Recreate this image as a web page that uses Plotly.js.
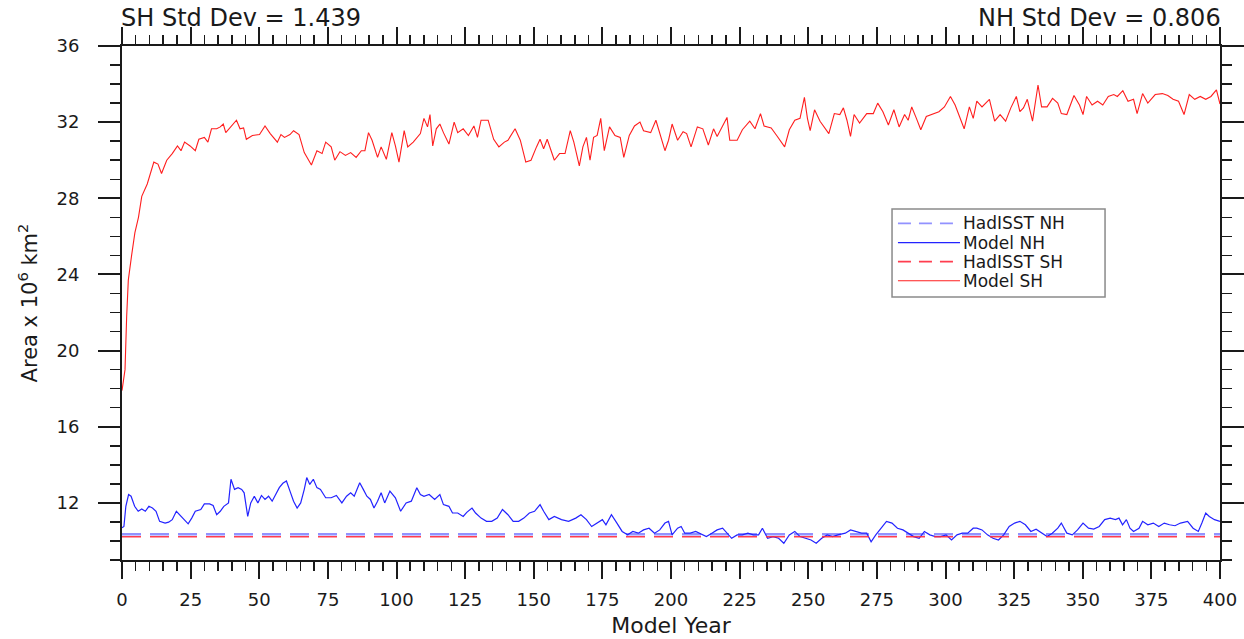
<!DOCTYPE html>
<html>
<head>
<meta charset="utf-8">
<script src="https://cdn.plot.ly/plotly-3.0.1.min.js"></script>
<style>
  html, body { margin: 0; padding: 0; background: #fff; }
  #chart { width: 1244px; height: 639px; }
</style>
</head>
<body>
<div id="chart"></div>
<script>
// ---- Data ----
const xRange = [0, 400];
const yRange = [9, 36];

// Model SH sea-ice area (10^6 km^2) vs model year
const shYears = [0,1.1,1.7,2.3,3.5,4.7,6.0,7.2,9.2,11.6,13.1,14.4,16.3,18.3,20.2,21.5,22.8,24.8,26.7,28.0,30.0,31.3,32.6,34.5,35.8,36.9,37.8,39.7,41.7,43.0,44.3,45.3,47.5,50.1,52.1,54.0,56.6,57.9,59.2,61.2,62.5,64.5,66.4,69.0,71.0,72.9,74.2,76.2,77.5,79.4,81.4,83.3,85.3,87.2,88.5,89.8,91.1,93.1,94.4,96.3,98.3,99.6,100.9,102.8,104.1,106.1,108.7,110.0,111.3,112.2,113.2,114.5,115.8,117.1,119.1,121.0,122.3,124.3,126.2,128.2,129.5,130.8,133.4,135.4,137.3,139.3,140.6,143.2,145.1,147.1,149.0,151.0,152.3,153.6,154.9,157.5,159.4,161.4,163.3,164.6,166.6,167.9,169.2,170.5,171.8,173.1,174.4,175.7,177.6,179.6,181.5,182.8,184.8,186.7,188.7,190.0,192.6,194.5,195.8,197.8,199.1,200.4,202.4,204.4,205.7,207.3,209.6,211.6,213.6,215.5,216.8,218.8,220.4,221.4,224.1,226.0,228.7,230.6,232.6,233.9,236.5,238.5,239.8,241.4,243.1,245.1,247.0,248.6,249.7,250.7,252.3,254.3,257.5,259.5,261.5,262.8,264.1,265.4,266.7,268.7,271.3,273.7,275.3,277.2,279.2,281.2,283.1,285.1,286.4,287.7,289.4,291.0,293.0,295.6,297.6,299.6,301.8,303.5,304.8,306.8,308.7,310.1,311.4,313.3,316.0,317.9,319.9,321.9,323.8,325.8,327.1,328.4,329.8,331.7,333.7,335.0,337.0,339.0,340.9,342.2,344.2,346.8,348.8,350.1,351.4,353.4,355.4,357.3,359.3,361.3,362.6,364.6,366.5,368.5,369.8,371.8,373.7,376.4,379.0,381.0,382.9,384.9,386.9,388.8,390.8,392.8,394.8,396.7,398.7,400.0];
const shArea = [17.9,19.0,21.8,23.7,25.0,26.2,27.0,28.1,28.75,29.9,29.8,29.3,30.0,30.35,30.75,30.5,30.95,30.75,30.5,31.1,31.2,30.95,31.65,31.65,31.75,31.9,31.45,31.75,32.1,31.65,31.7,31.1,31.3,31.35,31.8,31.4,30.95,31.35,31.2,31.35,31.55,31.35,30.4,29.75,30.5,30.35,30.95,30.7,30.0,30.45,30.25,30.4,30.15,30.5,30.5,31.45,31.05,30.15,30.7,30.05,31.45,30.75,29.9,31.55,30.7,30.95,31.4,32.2,31.75,32.4,30.75,31.65,31.9,31.45,30.85,32.0,31.45,31.65,31.3,31.8,31.2,32.1,32.1,31.1,30.7,30.95,31.05,31.65,31.05,29.9,30.0,30.7,31.1,30.6,31.1,30.0,30.35,30.35,31.55,30.95,29.7,30.7,31.2,30.0,31.2,31.3,32.2,30.5,31.75,31.3,31.2,30.15,31.3,31.8,32.0,31.55,31.45,32.1,31.45,30.5,31.05,31.9,31.05,31.5,31.4,30.7,31.75,31.65,30.8,31.65,31.25,31.85,32.25,31.05,31.05,31.6,32.05,31.65,32.45,31.8,31.7,31.3,31.05,30.7,31.6,32.1,32.2,33.3,32.2,31.55,32.65,32.05,31.4,32.45,32.4,32.75,32.1,31.25,32.4,31.95,32.45,32.45,33.0,32.55,31.85,32.65,31.75,32.4,32.1,32.8,32.2,31.6,32.3,32.45,32.55,32.8,33.35,32.9,32.4,31.65,32.8,32.2,33.1,32.8,33.2,32.05,32.4,32.05,32.75,33.35,32.55,32.75,33.2,32.05,33.95,32.8,32.8,33.25,33.0,32.45,32.4,33.4,32.9,32.4,33.35,32.9,33.1,32.9,33.35,33.45,33.35,33.65,33.1,33.2,32.45,33.5,33.0,33.45,33.5,33.4,33.2,33.1,32.4,33.45,33.2,33.35,33.2,33.35,33.7,32.95];

// Model NH sea-ice area
const nhYears = [0,0.7,1.4,2.4,3.3,4.6,5.9,7.2,8.5,9.8,11.1,12.4,13.7,15.7,17.0,18.3,19.8,21.5,22.8,24.1,25.4,26.7,28.7,30.0,31.9,33.2,34.5,35.8,37.1,38.8,39.7,41.0,42.3,43.6,44.5,45.3,45.8,46.9,48.2,49.5,50.8,52.1,53.4,54.7,56.0,57.3,58.6,59.9,61.2,62.5,63.8,65.1,66.4,67.3,68.4,69.7,71.0,72.3,74.2,76.2,78.1,80.1,81.8,83.3,84.6,86.6,87.9,89.2,90.5,91.8,93.1,94.4,95.7,97.6,99.6,101.5,103.5,105.4,107.4,108.7,110.0,111.9,113.9,115.8,117.1,119.1,120.4,122.3,124.3,125.6,127.5,128.8,130.8,132.8,134.7,136.7,138.6,140.6,142.5,144.5,146.4,148.4,150.3,152.3,153.6,155.5,157.5,160.1,162.7,165.3,167.2,169.2,171.1,173.1,175.0,176.3,178.3,180.3,182.2,184.2,186.1,188.1,190.0,192.0,194.0,195.9,197.8,199.1,200.4,202.4,203.7,205.0,207.0,209.0,210.9,212.9,214.9,216.8,218.8,220.8,222.1,224.1,226.0,228.0,230.0,231.9,233.3,235.2,237.2,239.2,241.1,243.1,245.1,247.0,249.0,251.0,252.9,254.9,256.9,258.9,260.8,263.5,265.4,267.4,269.4,271.3,272.9,274.6,276.6,278.5,280.5,282.5,284.5,286.4,288.4,290.4,292.3,294.3,296.3,298.2,300.2,302.2,304.2,306.1,308.1,310.1,311.4,313.3,315.3,317.3,319.3,321.2,323.2,325.2,327.1,329.1,331.1,333.0,335.0,337.0,338.9,340.9,342.2,344.2,346.2,348.1,350.1,352.1,354.0,356.0,358.0,360.0,361.9,363.2,364.5,365.9,367.2,368.5,370.5,371.8,373.7,375.7,377.7,379.7,381.6,383.6,385.6,388.2,390.2,392.1,393.4,394.8,396.1,398.0,400.0];
const nhArea = [10.7,10.76,11.82,12.44,12.35,11.82,11.56,11.68,11.56,11.82,11.73,11.56,11.03,10.94,10.99,11.12,11.56,11.29,11.12,10.9,11.2,11.56,11.65,11.95,11.95,11.86,11.38,11.56,11.82,12.0,13.24,12.71,12.8,12.71,12.53,11.82,11.29,12.0,12.35,12.0,12.39,12.18,12.35,12.09,12.44,12.8,13.03,13.15,12.62,12.09,11.73,12.0,12.71,13.33,12.97,13.24,12.8,12.71,12.27,12.27,12.39,12.0,12.35,12.53,12.35,13.06,12.71,12.35,12.18,11.73,12.09,12.53,12.0,12.62,12.27,11.56,12.0,12.09,12.8,12.44,12.35,12.44,12.18,12.44,11.91,11.82,11.47,11.47,11.29,11.5,11.73,11.47,11.2,11.03,11.03,11.2,11.65,11.38,11.03,11.03,11.2,11.47,11.56,11.91,11.56,11.12,11.29,11.12,11.03,11.2,11.38,11.12,10.76,10.94,11.12,10.85,11.38,10.94,10.5,10.32,10.5,10.41,10.58,10.67,10.41,10.58,10.94,11.03,10.32,10.67,10.76,10.41,10.41,10.5,10.37,10.23,10.41,10.58,10.67,10.32,10.14,10.32,10.32,10.41,10.32,10.32,10.67,10.14,10.23,10.14,9.88,10.32,10.5,10.23,10.14,10.05,9.88,10.14,10.32,10.23,10.32,10.41,10.58,10.5,10.41,10.41,9.96,10.32,10.67,11.03,10.94,10.67,10.58,10.41,10.23,10.14,10.5,10.32,10.23,10.23,10.32,10.05,10.32,10.41,10.41,10.67,10.67,10.58,10.32,10.14,10.05,10.32,10.76,10.94,11.03,10.85,10.5,10.62,10.41,10.23,10.41,10.67,10.94,10.41,10.32,10.58,10.94,10.67,10.62,10.76,11.12,11.2,11.12,11.2,10.85,11.12,10.67,10.5,10.67,11.03,10.85,10.94,10.76,10.94,10.85,10.8,10.94,11.03,10.67,10.5,10.94,11.47,11.29,11.12,11.03];

// HadISST observed reference levels
const hadNH = 10.35;
const hadSH = 10.22;

const shStdDev = "1.439";
const nhStdDev = "0.806";

const seriesNames = ["HadISST NH", "Model NH", "HadISST SH", "Model SH"];

// ---- Styles ----
const FONT = "DejaVu Sans, Arial, sans-serif";
const INK = "#1a1a1a";
const styles = [
  { color: "rgba(110,110,255,0.75)", width: 2.6, dash: "19px,9px", legDash: "13px,8px" },
  { color: "rgb(35,35,255)", width: 1.2, dash: "solid", legDash: "solid" },
  { color: "rgba(255,40,60,0.9)", width: 1.6, dash: "19px,9px", legDash: "13px,8px" },
  { color: "rgb(255,30,30)", width: 1.1, dash: "solid", legDash: "solid" }
];

const seriesX = [xRange, nhYears, xRange, shYears];
const seriesY = [[hadNH, hadNH], nhArea, [hadSH, hadSH], shArea];

const traces = seriesNames.map((nm, i) => ({
  x: seriesX[i], y: seriesY[i], name: nm, mode: "lines", showlegend: false,
  line: { color: styles[i].color, width: styles[i].width, dash: styles[i].dash }
}));

// ---- Legend box (NCL-style, drawn in paper coordinates) ----
const legX0 = 0.7013, legX1 = 0.8953, legY0 = 0.5117, legY1 = 0.6829;
const legRowY = [0.6550, 0.6173, 0.5804, 0.5434];
const legLineX = [0.7067, 0.7632];
const shapes = [
  { type: "rect", xref: "paper", yref: "paper", x0: legX0, x1: legX1, y0: legY0, y1: legY1,
    line: { color: "#8a8a8a", width: 1.5 }, fillcolor: "#ffffff", layer: "above" }
];
const annotations = [];
seriesNames.forEach((nm, i) => {
  shapes.push({ type: "line", xref: "paper", yref: "paper",
    x0: legLineX[0], x1: legLineX[1], y0: legRowY[i], y1: legRowY[i],
    line: { color: styles[i].color, width: Math.min(styles[i].width, 1.6), dash: styles[i].legDash }, layer: "above" });
  annotations.push({ xref: "paper", yref: "paper", x: legLineX[1] + 0.001, y: legRowY[i],
    xanchor: "left", yanchor: "middle", text: nm, showarrow: false,
    font: { family: FONT, size: 17, color: INK } });
});
annotations.push(
  { xref: "paper", yref: "paper", x: -0.003, y: 1.055, xanchor: "left", yanchor: "middle",
    text: "SH Std Dev = " + shStdDev, showarrow: false,
    font: { family: FONT, size: 24, color: INK } },
  { xref: "paper", yref: "paper", x: 1.003, y: 1.055, xanchor: "right", yanchor: "middle",
    text: "NH Std Dev = " + nhStdDev, showarrow: false,
    font: { family: FONT, size: 24, color: INK } }
);

const axisCommon = {
  showline: true, linecolor: INK, linewidth: 2,
  mirror: "ticks", ticks: "outside", tickcolor: INK, tickwidth: 2,
  showgrid: false, zeroline: false,
  tickfont: { family: FONT, size: 18, color: INK }
};

const layout = {
  width: 1244, height: 639,
  margin: { l: 122, r: 24, t: 46, b: 79 },
  paper_bgcolor: "#ffffff", plot_bgcolor: "#ffffff",
  showlegend: false,
  xaxis: Object.assign({}, axisCommon, {
    range: xRange, tick0: 0, dtick: 25, ticklen: 17,
    ticklabelstandoff: 5,
    minor: { dtick: 5, ticklen: 9, tickwidth: 1.5, tickcolor: INK, ticks: "outside" },
    title: { text: "Model Year", font: { family: FONT, size: 22, color: INK }, standoff: 9 }
  }),
  yaxis: Object.assign({}, axisCommon, {
    range: yRange, tick0: 0, dtick: 4, ticklen: 22,
    ticklabelstandoff: 15,
    minor: { dtick: 1, ticklen: 10, tickwidth: 1.5, tickcolor: INK, ticks: "outside" },
    title: { text: "Area x 10<sup>6</sup> km<sup>2</sup>", font: { family: FONT, size: 21, color: INK }, standoff: 13 }
  }),
  shapes: shapes,
  annotations: annotations
};

Plotly.newPlot("chart", traces, layout, { staticPlot: true, displayModeBar: false });
</script>
</body>
</html>
